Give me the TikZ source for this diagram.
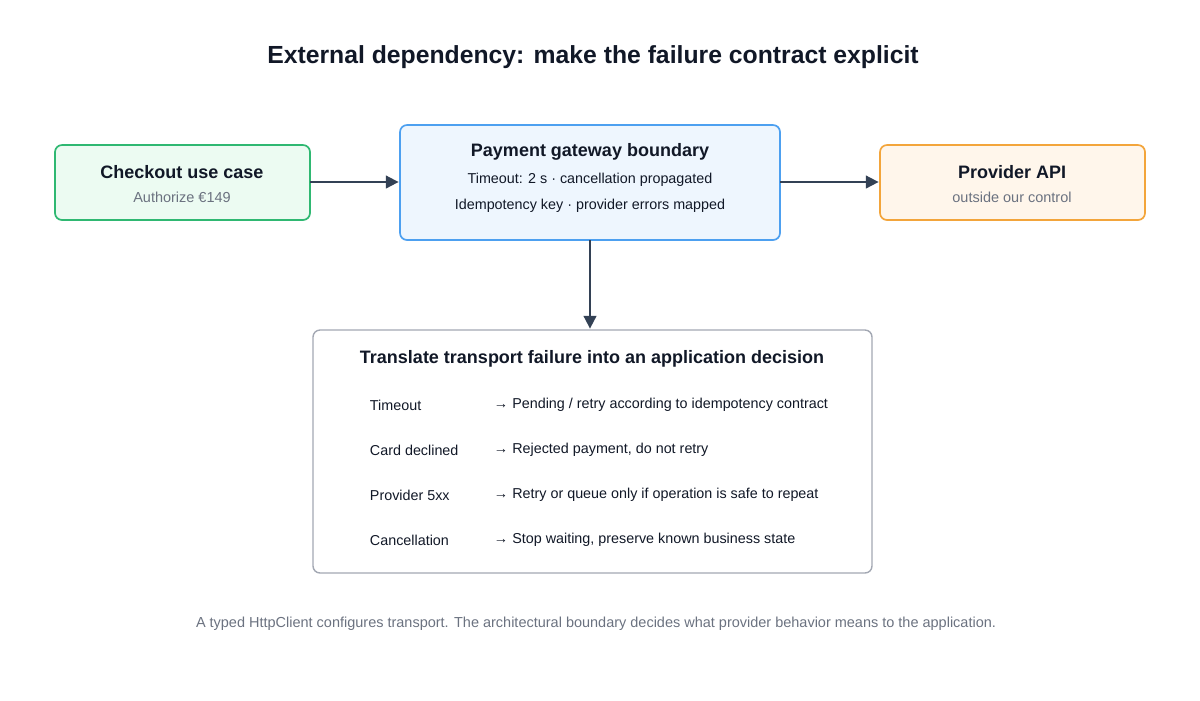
\documentclass[tikz,border=0pt]{standalone}
\usepackage{fontspec}
\setmainfont{Liberation Sans}
\usetikzlibrary{calc,arrows.meta}
\usepackage{xcolor}
\definecolor{ink}{HTML}{111827}
\definecolor{muted}{HTML}{6B7280}
\definecolor{arrowc}{HTML}{334155}
\definecolor{greenb}{HTML}{2FB872}
\definecolor{greenf}{HTML}{ECFBF2}
\definecolor{blueb}{HTML}{4DA0F0}
\definecolor{bluef}{HTML}{EEF6FE}
\definecolor{orangeb}{HTML}{F3A53B}
\definecolor{orangef}{HTML}{FFF6EB}
\definecolor{grayb}{HTML}{A3A8B3}

\tikzset{
  box/.style={rounded corners=5pt, line width=1.2pt},
  heading/.style={font=\bfseries\fontsize{12.8}{14}\selectfont, text=ink},
  sub/.style={font=\fontsize{10.3}{12}\selectfont, text=muted},
  detail/.style={font=\fontsize{10.2}{12}\selectfont, text=ink},
  flow/.style={-{Triangle[length=9pt,width=9pt]}, line width=1.3pt, draw=arrowc, shorten >=1pt}
}

\begin{document}
\begin{tikzpicture}[x=0.025cm, y=-0.025cm]
\useasboundingbox (0,0) rectangle (1200,700);

% title
\node (title) at (593,57) {\bfseries\fontsize{17.6}{20}\selectfont\color{ink}External dependency: make the failure contract explicit};

% boxes
\draw [box, draw=greenb, fill=greenf] (55,145) rectangle (310,220);
\draw [box, draw=blueb, fill=bluef] (400,125) rectangle (780,240);
\draw [box, draw=orangeb, fill=orangef] (880,145) rectangle (1145,220);
\draw [box, draw=grayb, fill=white, line width=1pt] (313,330) rectangle (872,573);

\coordinate (checkout_east) at (310,182);
\coordinate (gateway_west) at (400,182);
\coordinate (gateway_east) at (780,182);
\coordinate (provider_west) at (880,182);
\coordinate (gateway_south) at (590,240);
\coordinate (translate_north) at (590,330);

\node [heading] (checkout) at (182,172) {Checkout use case};
\node [sub] (checkout_sub) at (182,197) {Authorize €149};

\node [heading] (gateway) at (590,152) {Payment gateway boundary};
\node [detail] (gateway_l1) at (590,180) {Timeout: 2 s · cancellation propagated};
\node [detail] (gateway_l2) at (590,206) {Idempotency key · provider errors mapped};

\node [heading] (provider) at (1012,172) {Provider API};
\node [sub] (provider_sub) at (1012,197) {outside our control};

\node [heading] (translate) at (592,359) {Translate transport failure into an application decision};

\foreach \y/\case/\decision in {
  405/Timeout/{Pending / retry according to idempotency contract},
  450/Card declined/{Rejected payment, do not retry},
  495/Provider 5xx/{Retry or queue only if operation is safe to repeat},
  540/Cancellation/{Stop waiting, preserve known business state}} {
  \node [detail, anchor=west] at (365,\y) {\case};
  \node [detail, anchor=west] at (489,\y) {→ \decision};
}

\draw [flow] (checkout_east) -- (gateway_west);
\draw [flow] (gateway_east) -- (provider_west);
\draw [flow] (gateway_south) -- (translate_north);

% footer
\node [sub] (footer) at (596,624) {A typed HttpClient configures transport. The architectural boundary decides what provider behavior means to the application.};
\end{tikzpicture}
\end{document}
